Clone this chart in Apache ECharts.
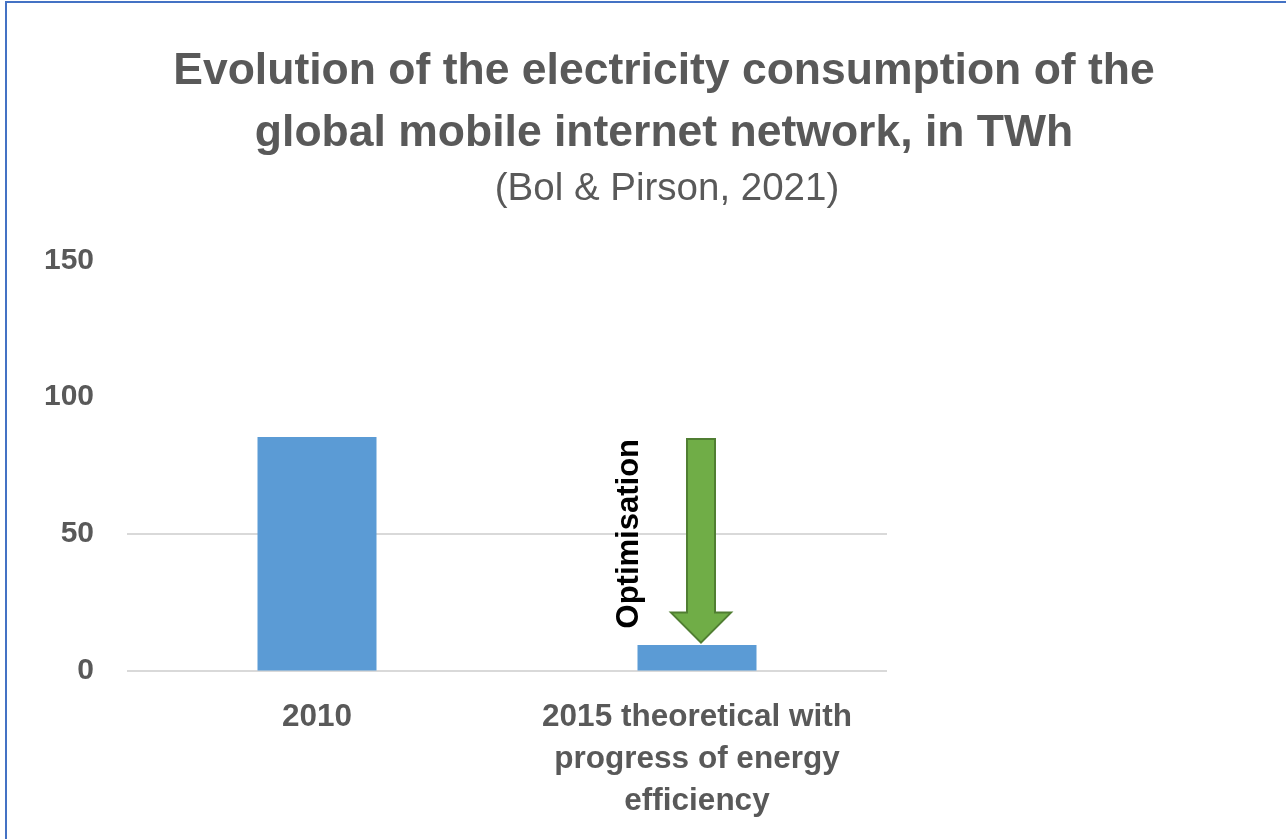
<!DOCTYPE html>
<html>
<head>
<meta charset="utf-8">
<script src="https://cdn.jsdelivr.net/npm/echarts@6/dist/echarts.min.js"></script>
<style>
  html, body { margin: 0; padding: 0; background: #fff; }
  #chart { position: absolute; left: 0; top: 0; width: 1286px; height: 839px; }
  #frame { position: absolute; left: 5px; top: 1px; right: -10px; bottom: -10px;
           border-top: 2px solid #4472C4; border-left: 2px solid #4472C4; pointer-events: none; }
</style>
</head>
<body>
<div id="chart"></div>
<div id="frame"></div>
<script>
// ---- data ----
const titleLines = ['Evolution of the electricity consumption of the', 'global mobile internet network, in TWh'];
const subtitle = '(Bol & Pirson, 2021)';
const categories = ['2010', '2015 theoretical with\nprogress of energy\nefficiency'];
const consumption = [85.4, 9.3];
const yMin = 0, yMax = 150, yStep = 50;
const arrowCategory = 1;
const arrowFrom = 84.7;
const arrowTo = 10.2;
const arrowLabel = 'Optimisation';

const chart = echarts.init(document.getElementById('chart'), null, { renderer: 'canvas' });

function renderArrow(params, api) {
  const cat = api.value(0);
  const p0 = api.coord([cat, api.value(1)]);
  const p1 = api.coord([cat, api.value(2)]);
  const x = p0[0] + 4;
  const sw = 14, hw = 30, hl = 30;
  const yTop = p0[1], yTip = p1[1], yBase = yTip - hl;
  const pts = [[x - sw, yTop], [x + sw, yTop], [x + sw, yBase], [x + hw, yBase],
               [x, yTip], [x - hw, yBase], [x - sw, yBase]];
  return {
    type: 'group',
    children: [
      { type: 'polygon', shape: { points: pts },
        style: { fill: '#70AD47', stroke: '#507E32', lineWidth: 2 } },
      { type: 'text', x: x - 72, y: yTop, rotation: Math.PI / 2,
        style: { text: arrowLabel, font: 'bold 31px "Liberation Sans", Arial, sans-serif',
                 fill: '#000', align: 'right', verticalAlign: 'middle' } }
    ]
  };
}

chart.setOption({
  backgroundColor: '#fff',
  animation: false,
  title: [
    { text: titleLines.join('\n'), left: 659, textAlign: 'center', top: 36,
      textStyle: { fontFamily: '"Liberation Sans", Arial, sans-serif', fontWeight: 'bold',
                   fontSize: 44.5, lineHeight: 62, color: '#595959' } },
    { text: subtitle, left: 662, textAlign: 'center', top: 162,
      textStyle: { fontFamily: '"Liberation Sans", Arial, sans-serif', fontWeight: 'normal',
                   fontSize: 38.5, lineHeight: 44, color: '#595959' } }
  ],
  grid: { left: 127, top: 260.5, width: 760, bottom: 168.5, containLabel: false },
  xAxis: {
    type: 'category', data: categories,
    axisLine: { show: false }, axisTick: { show: false },
    axisLabel: { interval: 0, margin: 26, color: '#595959', fontWeight: 'bold', fontSize: 31.5,
                 lineHeight: 42, fontFamily: '"Liberation Sans", Arial, sans-serif' }
  },
  yAxis: {
    type: 'value', min: yMin, max: yMax, interval: yStep,
    axisLine: { show: false }, axisTick: { show: false },
    axisLabel: { margin: 33, color: '#595959', fontWeight: 'bold', fontSize: 30,
                 fontFamily: '"Liberation Sans", Arial, sans-serif' },
    splitLine: { show: true, lineStyle: { width: 2, color: ['#d9d9d9', '#d9d9d9', 'rgba(0,0,0,0)', 'rgba(0,0,0,0)'] } }
  },
  series: [
    { type: 'bar', data: consumption, barWidth: 119, itemStyle: { color: '#5B9BD5' } },
    { type: 'custom', renderItem: renderArrow, data: [[arrowCategory, arrowFrom, arrowTo]], z: 5 }
  ]
});
</script>
</body>
</html>
